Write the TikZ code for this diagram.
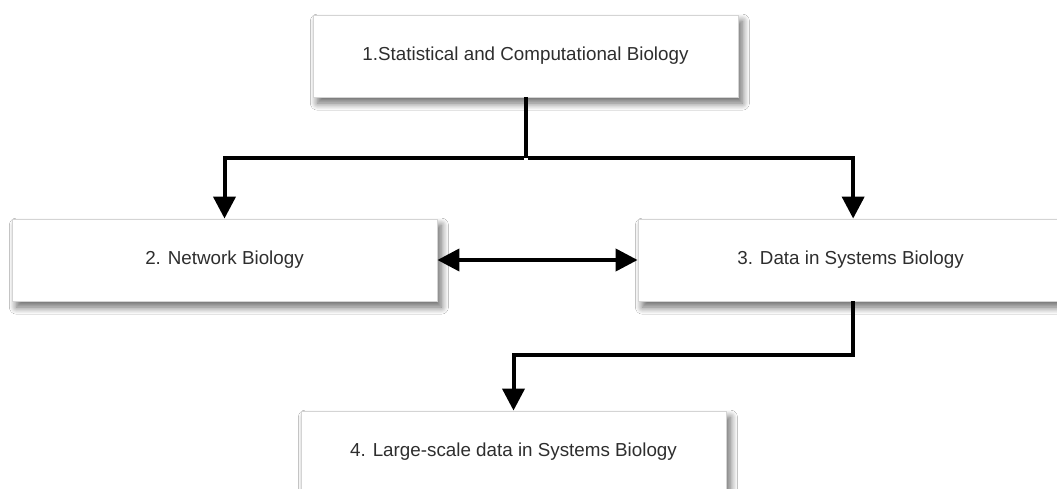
\documentclass[tikz,border=0pt]{standalone}
\usepackage{fontspec}
\setmainfont{Liberation Sans}
\usepackage{tikz}
\usetikzlibrary{arrows.meta, positioning, calc, shadows.blur}

\definecolor{boxline}{HTML}{D4D4D4}
\definecolor{boxtext}{HTML}{2E2E2E}

\begin{document}
\begin{tikzpicture}[
    x=0.02cm, y=-0.02cm,
    topic/.style={rectangle, draw=boxline, line width=0.5pt, fill=white,
        minimum width=8.5cm, minimum height=1.64cm, text=boxtext,
        font=\fontsize{10.7}{12}\selectfont,
        blur shadow={shadow xshift=2.5pt, shadow yshift=-3.5pt,
            shadow blur radius=4pt, shadow blur steps=12, shadow opacity=60}},
    link/.style={line width=0.08cm, -{Triangle[length=0.44cm, width=0.44cm]}}
]

% frame of the picture
\clip (0,0) rectangle (1057,489);
\fill[white] (0,0) rectangle (1057,489);

% topic boxes
\node[topic] (stat) at (525.5,56) {1.Statistical and Computational Biology};
\node[topic] (net) at (224.5,260) {2. Network Biology};
\node[topic] (data) at (850.5,260) {3. Data in Systems Biology};
\node[topic] (large) at (513.5,452) {4. Large-scale data in Systems Biology};

% split below box 1
\coordinate (split) at (525.5,158);
\draw[line width=0.08cm] (stat.south) -- (split);
\draw[link] ([xshift=-0.04cm]split) -| (net.north);
\draw[link] ([xshift=0.04cm]split) -| ([xshift=1.5]data.north);

% between box 2 and box 3
\draw[link, {Triangle[length=0.44cm, width=0.44cm]}-{Triangle[length=0.44cm, width=0.44cm]}]
    (net.east) -- (data.west);

% box 3 down to box 4
\draw[link] ([xshift=1.5]data.south) -- ++(0,54) -| (large.north);

\end{tikzpicture}
\end{document}
